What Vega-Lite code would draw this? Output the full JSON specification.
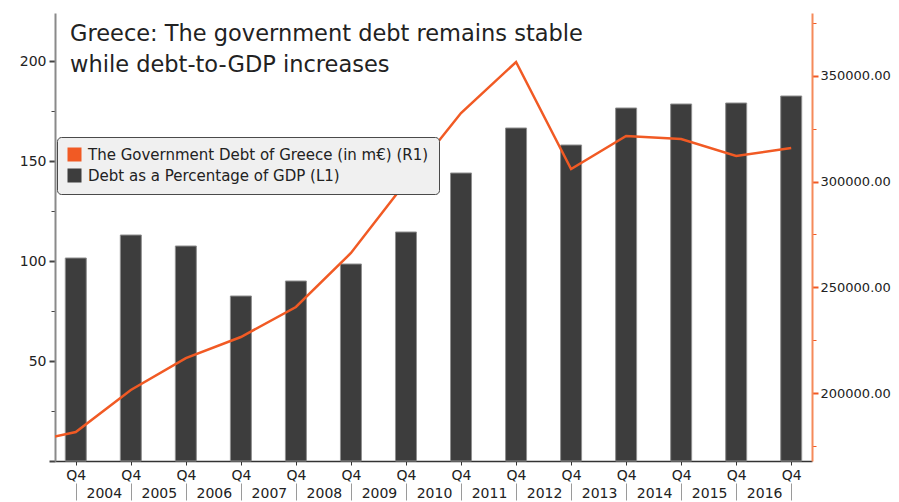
{
  "$schema": "https://vega.github.io/schema/vega-lite/v6.json",
  "width": 757,
  "height": 448,
  "autosize": {"type": "none"},
  "padding": {"left": 55, "top": 13, "right": 87, "bottom": 41},
  "background": "white",
  "config": {"font": "DejaVu Sans", "view": {"stroke": null}},
  "title": {
    "text": ["Greece: The government debt remains stable", "while debt-to-GDP increases"],
    "anchor": "start",
    "frame": "group",
    "orient": "top",
    "baseline": "top",
    "offset": -63,
    "dx": 15,
    "fontSize": 22.5,
    "fontWeight": "normal",
    "color": "#222222",
    "lineHeight": 31
  },
  "datasets": {
    "ratio": [
      {"year": 2003, "ratio": 101.5, "series": "Debt as a Percentage of GDP (L1)"},
      {"year": 2004, "ratio": 113, "series": "Debt as a Percentage of GDP (L1)"},
      {"year": 2005, "ratio": 107.5, "series": "Debt as a Percentage of GDP (L1)"},
      {"year": 2006, "ratio": 82.5, "series": "Debt as a Percentage of GDP (L1)"},
      {"year": 2007, "ratio": 90, "series": "Debt as a Percentage of GDP (L1)"},
      {"year": 2008, "ratio": 98.5, "series": "Debt as a Percentage of GDP (L1)"},
      {"year": 2009, "ratio": 114.5, "series": "Debt as a Percentage of GDP (L1)"},
      {"year": 2010, "ratio": 144, "series": "Debt as a Percentage of GDP (L1)"},
      {"year": 2011, "ratio": 166.5, "series": "Debt as a Percentage of GDP (L1)"},
      {"year": 2012, "ratio": 158, "series": "Debt as a Percentage of GDP (L1)"},
      {"year": 2013, "ratio": 176.5, "series": "Debt as a Percentage of GDP (L1)"},
      {"year": 2014, "ratio": 178.5, "series": "Debt as a Percentage of GDP (L1)"},
      {"year": 2015, "ratio": 179, "series": "Debt as a Percentage of GDP (L1)"},
      {"year": 2016, "ratio": 182.5, "series": "Debt as a Percentage of GDP (L1)"}
    ],
    "debt": [
      {"year": 2002, "debt": 176000},
      {"year": 2003, "debt": 181550},
      {"year": 2004, "debt": 201400},
      {"year": 2005, "debt": 216500},
      {"year": 2006, "debt": 226500},
      {"year": 2007, "debt": 240700},
      {"year": 2008, "debt": 266250},
      {"year": 2009, "debt": 299850},
      {"year": 2010, "debt": 332500},
      {"year": 2011, "debt": 356600},
      {"year": 2012, "debt": 306000},
      {"year": 2013, "debt": 321600},
      {"year": 2014, "debt": 320200},
      {"year": 2015, "debt": 312150},
      {"year": 2016, "debt": 315900}
    ]
  },
  "layer": [
    {
      "data": {"name": "ratio"},
      "mark": {"type": "bar", "size": 21, "stroke": "#8f8f8f", "strokeWidth": 1},
      "encoding": {
        "x": {
          "field": "year",
          "type": "quantitative",
          "scale": {"domain": [2002.713, 2016.287], "nice": false, "zero": false},
          "axis": {
            "orient": "bottom",
            "values": [2003, 2004, 2005, 2006, 2007, 2008, 2009, 2010, 2011, 2012, 2013, 2014, 2015, 2016],
            "labelExpr": "'Q4'",
            "tickSize": 4,
            "tickColor": "#333333",
            "domainColor": "#333333",
            "domainWidth": 1.5,
            "labelPadding": 3,
            "labelFontSize": 14,
            "labelColor": "#222222",
            "title": null,
            "grid": false,
            "labelOverlap": false,
            "labelFlush": false,
            "labelBound": false
          }
        },
        "y": {
          "field": "ratio",
          "type": "quantitative",
          "scale": {"domain": [0, 224], "nice": false},
          "axis": {
            "values": [0, 25, 50, 75, 100, 125, 150, 175, 200],
            "labelExpr": "datum.value % 50 == 0 && datum.value > 0 ? datum.label : ''",
            "title": null,
            "grid": false,
            "domainColor": "#8a8a8a",
            "domainWidth": 2,
            "tickColor": "#444444",
            "tickSize": {"condition": {"test": "datum.value % 50 == 0", "value": 6}, "value": 4},
            "tickWidth": {"condition": {"test": "datum.value % 50 == 0", "value": 2}, "value": 1},
            "labelFontSize": 14,
            "labelColor": "#222222",
            "labelPadding": 3
          }
        },
        "color": {
          "field": "series",
          "type": "nominal",
          "scale": {
            "domain": ["The Government Debt of Greece (in m€) (R1)", "Debt as a Percentage of GDP (L1)"],
            "range": ["#f15a24", "#3d3d3d"]
          },
          "legend": {
            "orient": "none",
            "legendX": 2,
            "legendY": 124,
            "title": null,
            "direction": "vertical",
            "fillColor": "#f0f0f0",
            "strokeColor": "#4a4a4a",
            "cornerRadius": 4,
            "padding": 10,
            "symbolType": "square",
            "symbolSize": 196,
            "symbolStrokeWidth": 0,
            "labelFontSize": 15,
            "labelColor": "#222222",
            "labelLimit": 0,
            "rowPadding": 5,
            "labelOffset": 6
          }
        }
      }
    },
    {
      "data": {"name": "debt"},
      "mark": {"type": "line", "color": "#f15a24", "strokeWidth": 2.5, "clip": true},
      "encoding": {
        "x": {
          "field": "year",
          "type": "quantitative",
          "scale": {"domain": [2002.713, 2016.287], "nice": false, "zero": false},
          "axis": {
            "orient": "bottom",
            "values": [2003, 2004, 2005, 2006, 2007, 2008, 2009, 2010, 2011, 2012, 2013, 2014, 2015, 2016],
            "offset": 22,
            "domain": false,
            "tickSize": 17,
            "tickColor": "#9a9a9a",
            "tickWidth": 1,
            "labelExpr": "datum.value < 2016 ? '' + (datum.value + 1) : ''",
            "labelOffset": 28,
            "labelPadding": -14,
            "labelFontSize": 14,
            "labelColor": "#222222",
            "labelOverlap": false,
            "labelFlush": false,
            "labelBound": false,
            "title": null,
            "grid": false
          }
        },
        "y": {
          "field": "debt",
          "type": "quantitative",
          "scale": {"domain": [167824, 379810], "nice": false, "zero": false},
          "axis": {
            "orient": "right",
            "values": [175000, 200000, 225000, 250000, 275000, 300000, 325000, 350000, 375000],
            "labelExpr": "datum.value % 50000 == 0 ? format(datum.value, '.2f') : ''",
            "title": null,
            "grid": false,
            "domainColor": "#f58a5a",
            "domainWidth": 2,
            "tickColor": "#f15a24",
            "tickSize": {"condition": {"test": "datum.value % 50000 == 0", "value": 6}, "value": 4},
            "tickWidth": {"condition": {"test": "datum.value % 50000 == 0", "value": 2}, "value": 1},
            "labelFontSize": 13,
            "labelColor": "#222222",
            "labelPadding": 2
          }
        }
      }
    }
  ],
  "resolve": {"scale": {"y": "independent"}, "axis": {"x": "independent", "y": "independent"}}
}
